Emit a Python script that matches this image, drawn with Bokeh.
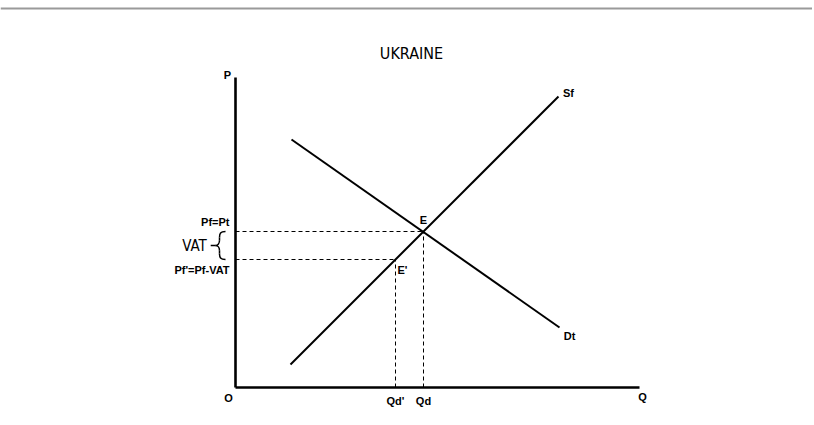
from bokeh.plotting import figure
from bokeh.models import Range1d, Span
from bokeh.core.properties import value
from bokeh.embed import file_html
from bokeh.resources import INLINE

# ---- data (model units) ----
q_axis_end = 101
p_axis_end = 77.5
supply_q = [13.75, 80.75]
supply_p = [5.75, 72.75]
demand_q = [14, 81]
demand_p = [62, 15]
Qd = 47
Pf = 39
Qd_prime = 40
Pf_prime = 32
title_text = "UKRAINE"

W, H = 812, 417
# pixel mapping: 4 px per unit, origin at page (235, 387), figure at (0, 0)
x0 = (0 - 235) / 4
x1 = (W - 235) / 4
y1 = (387 - 0) / 4
y0 = (387 - H) / 4

p = figure(width=W, height=H, x_range=Range1d(x0, x1), y_range=Range1d(y0, y1),
           output_backend="svg", toolbar_location=None, x_axis_type=None, y_axis_type=None,
           min_border=0, outline_line_color=None)
p.grid.visible = False
p.background_fill_color = "white"
p.border_fill_color = "white"

# top gray rule
p.add_layout(Span(location=(387 - 8) / 4, dimension="width", line_color="#9a9a9a", line_width=2))

# dashed guide lines
p.segment(x0=[0, 0, Qd, Qd_prime], y0=[Pf, Pf_prime, 0, 0],
          x1=[Qd, Qd_prime, Qd, Qd_prime], y1=[Pf, Pf_prime, Pf, Pf_prime],
          line_color="black", line_width=1, line_dash="4 3")

# supply & demand
p.line(supply_q, supply_p, line_color="black", line_width=2)
p.line(demand_q, demand_p, line_color="black", line_width=2)

# axes
p.line([0, 0], [p_axis_end, 0], line_color="black", line_width=2.6)
p.line([0, q_axis_end], [0, 0], line_color="black", line_width=2.6)

# brace for VAT
mid = (Pf + Pf_prime) / 2
bx_end, bx_spine, bx_tip = -2.5, -4.0, -5.0
p.bezier(x0=[bx_end, bx_spine, bx_end, bx_spine],
         y0=[Pf, mid + 1.3, Pf_prime, mid - 1.3],
         x1=[bx_spine, bx_tip, bx_spine, bx_tip],
         y1=[Pf - 1.5, mid, Pf_prime + 1.5, mid],
         cx0=[bx_spine + 0.2, bx_spine, bx_spine + 0.2, bx_spine],
         cy0=[Pf, mid + 0.6, Pf_prime, mid - 0.6],
         cx1=[bx_spine, bx_spine - 0.4, bx_spine, bx_spine - 0.4],
         cy1=[Pf - 0.5, mid, Pf_prime + 0.5, mid],
         line_color="black", line_width=1.5)
p.segment(x0=[bx_spine, bx_spine], y0=[Pf - 1.5, Pf_prime + 1.5],
          x1=[bx_spine, bx_spine], y1=[mid + 1.3, mid - 1.3],
          line_color="black", line_width=1.5)
p.segment(x0=[bx_tip - 1.2], y0=[mid], x1=[bx_tip], y1=[mid], line_color="black", line_width=1.3)

bold = dict(text_font=value("Liberation Sans"), text_font_style="bold",
            text_font_size="11px", text_color="black", text_baseline="middle")

def lab(x, y, t, align="center", xo=0, yo=0):
    p.text(x=[x], y=[y], text=[t], text_align=align, x_offset=xo, y_offset=yo, **bold)

lab(0, p_axis_end, "P", xo=-8, yo=-3)
lab(0, 0, "O", xo=-7, yo=10)
lab(q_axis_end, 0, "Q", xo=3, yo=9)
lab(Qd_prime, 0, "Qd'", xo=0, yo=13)
lab(Qd, 0, "Qd", xo=0, yo=13)
lab(0, Pf, "Pf=Pt", align="right", xo=-6, yo=-10)
lab(0, Pf_prime, "Pf'=Pf-VAT", align="right", xo=-6, yo=10)
lab(Qd, Pf, "E", xo=0, yo=-12)
lab(Qd_prime, Pf_prime, "E'", xo=7, yo=10)
lab(supply_q[1], supply_p[1], "Sf", xo=10, yo=-4)
lab(demand_q[1], demand_p[1], "Dt", xo=10, yo=8)

narrow = "'Liberation Sans Narrow', 'DejaVu Sans Condensed', Roboto, sans-serif"
p.text(x=[bx_tip - 1.2], y=[mid], text=["VAT"], text_align="right", text_baseline="middle",
       x_offset=-4, text_font=value(narrow), text_font_size="15px", text_color="black")

p.text(x=[44], y=[83.5], text=[title_text], text_align="center", text_baseline="middle",
       text_font=value(narrow), text_font_size="16px", text_color="black")

open("out.html", "w").write(file_html(p, INLINE))
